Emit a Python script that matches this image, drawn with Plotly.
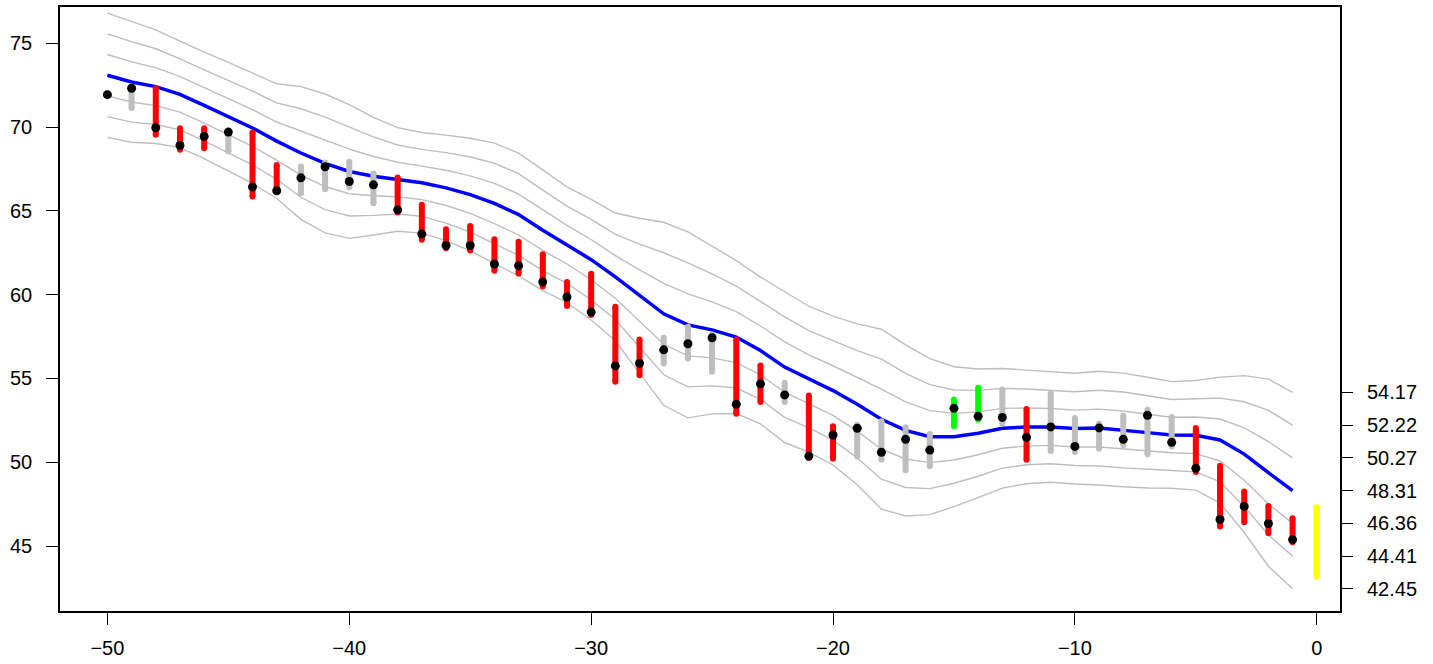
import plotly.graph_objects as go

t = list(range(-50, 0))

mid = [73.09, 72.69, 72.41, 71.95, 71.29, 70.62, 69.94, 69.16, 68.45, 67.83,
       67.35, 67.07, 66.87, 66.67, 66.37, 65.97, 65.44, 64.78, 63.84, 62.98,
       62.09, 61.06, 59.94, 58.86, 58.20, 57.90, 57.47, 56.67, 55.68, 54.96,
       54.28, 53.46, 52.57, 51.90, 51.53, 51.53, 51.73, 52.03, 52.11, 52.11,
       52.01, 52.04, 51.93, 51.77, 51.63, 51.61, 51.33, 50.49, 49.38, 48.31]

sd = [1.235, 1.20, 1.13, 1.06, 1.06, 1.08, 1.10, 1.14, 1.32, 1.38,
      1.33, 1.17, 1.03, 1.00, 1.05, 1.12, 1.20, 1.22, 1.20, 1.15,
      1.20, 1.27, 1.54, 1.82, 1.85, 1.67, 1.52, 1.46, 1.50, 1.45,
      1.48, 1.60, 1.79, 1.70, 1.55, 1.39, 1.28, 1.19, 1.13, 1.10,
      1.10, 1.13, 1.13, 1.10, 1.06, 1.09, 1.25, 1.56, 1.86, 1.953]

points = [71.93, 72.31, 69.96, 68.90, 69.44, 69.70, 66.43, 66.20, 66.97, 67.63,
          66.75, 66.55, 65.06, 63.62, 62.93, 62.93, 61.83, 61.73, 60.76, 59.86,
          58.96, 55.75, 55.91, 56.71, 57.07, 57.43, 53.46, 54.68, 54.02, 50.37,
          51.63, 52.03, 50.60, 51.37, 50.73, 53.22, 52.74, 52.68, 51.49, 52.11,
          50.95, 52.05, 51.37, 52.80, 51.19, 49.64, 46.59, 47.37, 46.35, 45.39]

seg_hi = [None, 72.42, 72.31, 69.92, 69.92, 69.78, 69.68, 67.73, 67.65, 67.89,
          67.93, 67.23, 66.99, 65.36, 63.90, 64.10, 63.30, 63.15, 62.41, 60.76,
          61.25, 59.28, 57.32, 57.43, 58.08, 57.62, 57.32, 55.77, 54.74, 53.98,
          52.15, 52.24, 52.45, 52.09, 51.69, 53.74, 54.44, 54.34, 53.18, 54.10,
          52.64, 52.30, 52.78, 53.14, 52.70, 52.05, 49.79, 48.26, 47.40, 46.67]

seg_lo = [None, 71.13, 69.54, 68.65, 68.74, 68.55, 65.86, 66.15, 66.05, 66.29,
          66.41, 65.45, 64.90, 63.27, 62.77, 62.63, 61.43, 61.27, 60.48, 59.32,
          58.78, 54.80, 55.20, 55.89, 56.19, 55.40, 52.90, 53.60, 53.60, 50.25,
          50.21, 50.35, 50.15, 49.52, 49.76, 52.15, 52.54, 52.31, 50.15, 50.67,
          50.61, 50.81, 51.01, 50.48, 50.95, 49.42, 46.17, 46.43, 45.77, 45.23]

seg_cls = [None, "g", "r", "r", "r", "g", "r", "r", "g", "g",
           "g", "g", "r", "r", "r", "r", "r", "r", "r", "r",
           "r", "r", "r", "g", "g", "g", "r", "r", "g", "r",
           "r", "g", "g", "g", "g", "G", "G", "g", "r", "g",
           "g", "g", "g", "g", "g", "r", "r", "r", "r", "r"]

next_t = [0]
next_range = [43.18, 47.32]

band_k = [3, 2, 1, -1, -2, -3]
right_ticks = [54.17, 52.22, 50.27, 48.31, 46.36, 44.41, 42.45]
left_ticks = [45, 50, 55, 60, 65, 70, 75]
x_ticks = [-50, -40, -30, -20, -10, 0]

colors = {"r": "#FF0000", "g": "#BEBEBE", "G": "#00FF00"}
FONT = dict(family="Liberation Sans, Arial, Helvetica, sans-serif", size=20, color="black")

fig = go.Figure()

for k in band_k:
    fig.add_trace(go.Scatter(x=t, y=[m + k * s for m, s in zip(mid, sd)], mode="lines",
                             line=dict(color="#BEBEBE", width=1.4), hoverinfo="skip",
                             showlegend=False))

fig.add_trace(go.Scatter(x=t, y=mid, mode="lines", line=dict(color="#0000FF", width=3.5),
                         showlegend=False))

for c, col in colors.items():
    xs, ys = [], []
    for ti, lo, hi, cl in zip(t, seg_lo, seg_hi, seg_cls):
        if cl == c:
            xs += [ti, ti, None]
            ys += [lo, hi, None]
    fig.add_trace(go.Scatter(x=xs, y=ys, mode="lines+markers",
                             line=dict(color=col, width=6),
                             marker=dict(color=col, size=6, line=dict(width=0)),
                             showlegend=False))

fig.add_trace(go.Scatter(x=next_t * 2, y=next_range, mode="lines+markers",
                         line=dict(color="#FFFF00", width=6),
                         marker=dict(color="#FFFF00", size=6, line=dict(width=0)),
                         showlegend=False))

fig.add_trace(go.Scatter(x=t, y=points, mode="markers",
                         marker=dict(color="black", size=9, line=dict(width=0)),
                         showlegend=False))

# invisible trace to activate right axis
fig.add_trace(go.Scatter(x=[t[0]], y=[mid[0]], yaxis="y2", mode="markers",
                         marker=dict(opacity=0), showlegend=False, hoverinfo="skip"))

yr = [41.13, 77.16]
fig.update_layout(
    width=1433, height=664,
    margin=dict(l=60, r=93, t=7, b=53),
    plot_bgcolor="white", paper_bgcolor="white",
    font=FONT,
    xaxis=dict(range=[-51.96, 0.96], tickvals=x_ticks, ticks="outside", ticklen=12,
               tickwidth=1.3, tickcolor="black", showline=True, linecolor="black",
               linewidth=1.5, mirror=True, showgrid=False, zeroline=False,
               tickfont=FONT, ticklabelstandoff=6, automargin=False),
    yaxis=dict(range=yr, tickvals=left_ticks, ticks="outside", ticklen=12,
               tickwidth=1.3, tickcolor="black", showline=True, linecolor="black",
               linewidth=1.5, mirror=True, showgrid=False, zeroline=False,
               tickfont=FONT, ticklabelstandoff=10, automargin=False),
    yaxis2=dict(range=yr, overlaying="y", side="right", tickvals=right_ticks,
                ticktext=[f"{v:.2f}" for v in right_ticks], ticks="outside", ticklen=12,
                tickwidth=1.3, tickcolor="black", showline=False, showgrid=False,
                zeroline=False, tickfont=FONT, ticklabelstandoff=10, automargin=False),
)

fig.write_html("out.html")
